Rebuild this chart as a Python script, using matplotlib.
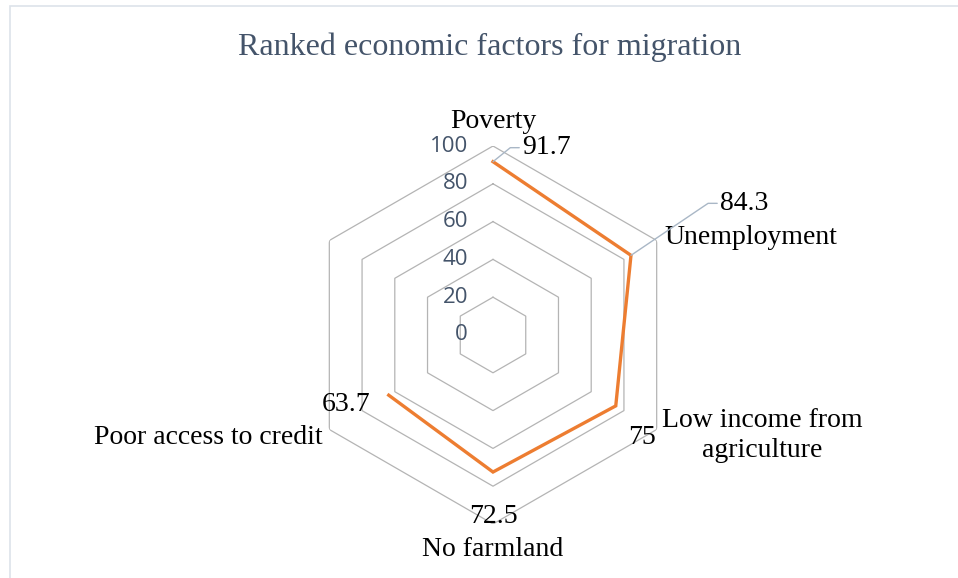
import numpy as np
import matplotlib.pyplot as plt
from matplotlib.patches import Rectangle

# radar categories, clockwise from the top; the last spoke has no data
categories = ["Poverty", "Unemployment", "Low income from\nagriculture",
              "No farmland", "Poor access to credit", ""]
values = [91.7, 84.3, 75, 72.5, 63.7, np.nan]
ring_levels = [0, 20, 40, 60, 80, 100]

title_color = "#44546a"
line_color = "#ed7d31"
grid_color = "#b4b4b4"
leader_color = "#a9b7c6"
serif = "Liberation Serif"

n = len(categories)
theta = np.pi / 2 - np.arange(n) * 2 * np.pi / n

fig = plt.figure(figsize=(9.58, 5.78), dpi=100)
fig.patch.set_facecolor("white")

# thin outline of the chart area
fig.patches.append(Rectangle((10 / 958, -0.05), 1.1, 1 - 6 / 578 + 0.05,
                             transform=fig.transFigure, fill=False,
                             edgecolor="#dde3ea", linewidth=1.2))

fig.text(0.511, 1 - 47 / 578, "Ranked economic factors for migration",
         ha="center", va="center", fontsize=23, family=serif, color=title_color)

ax = fig.add_axes([(493 - 189) / 958, (578 - 335 - 189) / 578,
                   378 / 958, 378 / 578], projection="polar")
ax.set_ylim(0, 100)
ax.grid(False)
ax.spines["polar"].set_visible(False)
ax.set_xticks([])
ax.set_yticks([])
ax.patch.set_alpha(0)

# hexagonal rings
ring_theta = np.append(theta, theta[0])
for lvl in ring_levels[1:]:
    ax.plot(ring_theta, [lvl] * (n + 1), color=grid_color, lw=0.9, zorder=1)

for lvl in ring_levels:
    ax.annotate(str(lvl), (np.pi / 2, lvl), xytext=(-18, 0),
                textcoords="offset points", ha="right", va="center",
                fontsize=16, family="Open Sans", color=title_color)

# data series (open where the value is missing)
ax.plot(theta, values, color=line_color, lw=2.4, solid_joinstyle="miter", zorder=3)

px = 0.72  # points per pixel at 100 dpi

# category labels: (offset x, offset y in px, ha)
cat_pos = [(0, 24, "center"), (8, 3, "left"), (5, -6, "left"),
           (0, -26, "center"), (-7, -8, "right"), (0, 0, "center")]
for t, lab, (dx, dy, ha) in zip(theta, categories, cat_pos):
    if not lab:
        continue
    ax.annotate(lab, (t, 100), xytext=(dx * px, dy * px),
                textcoords="offset points", ha=ha, va="center",
                fontsize=20, family=serif, color="black",
                multialignment="center", linespacing=1.3)

# value labels; the first two get leader lines
val_pos = [(29, 14, "left", True), (89, 52, "left", True),
           (12, -32, "left", False), (0, -44, "center", False),
           (-18, -9, "right", False)]
for t, v, (dx, dy, ha, lead) in zip(theta, values, val_pos):
    arrow = None
    if lead:
        arrow = dict(arrowstyle="-", color=leader_color, lw=1.0,
                     shrinkA=0, shrinkB=0,
                     connectionstyle="angle,angleA=0,angleB=%d,rad=0"
                     % int(np.degrees(np.arctan2(dy, dx - 12))))
    ax.annotate(f"{v:g}", (t, v), xytext=(dx * px, dy * px),
                textcoords="offset points", ha=ha, va="center",
                fontsize=20, family=serif, color="black",
                arrowprops=arrow)

fig.savefig("out.png", dpi=100)
